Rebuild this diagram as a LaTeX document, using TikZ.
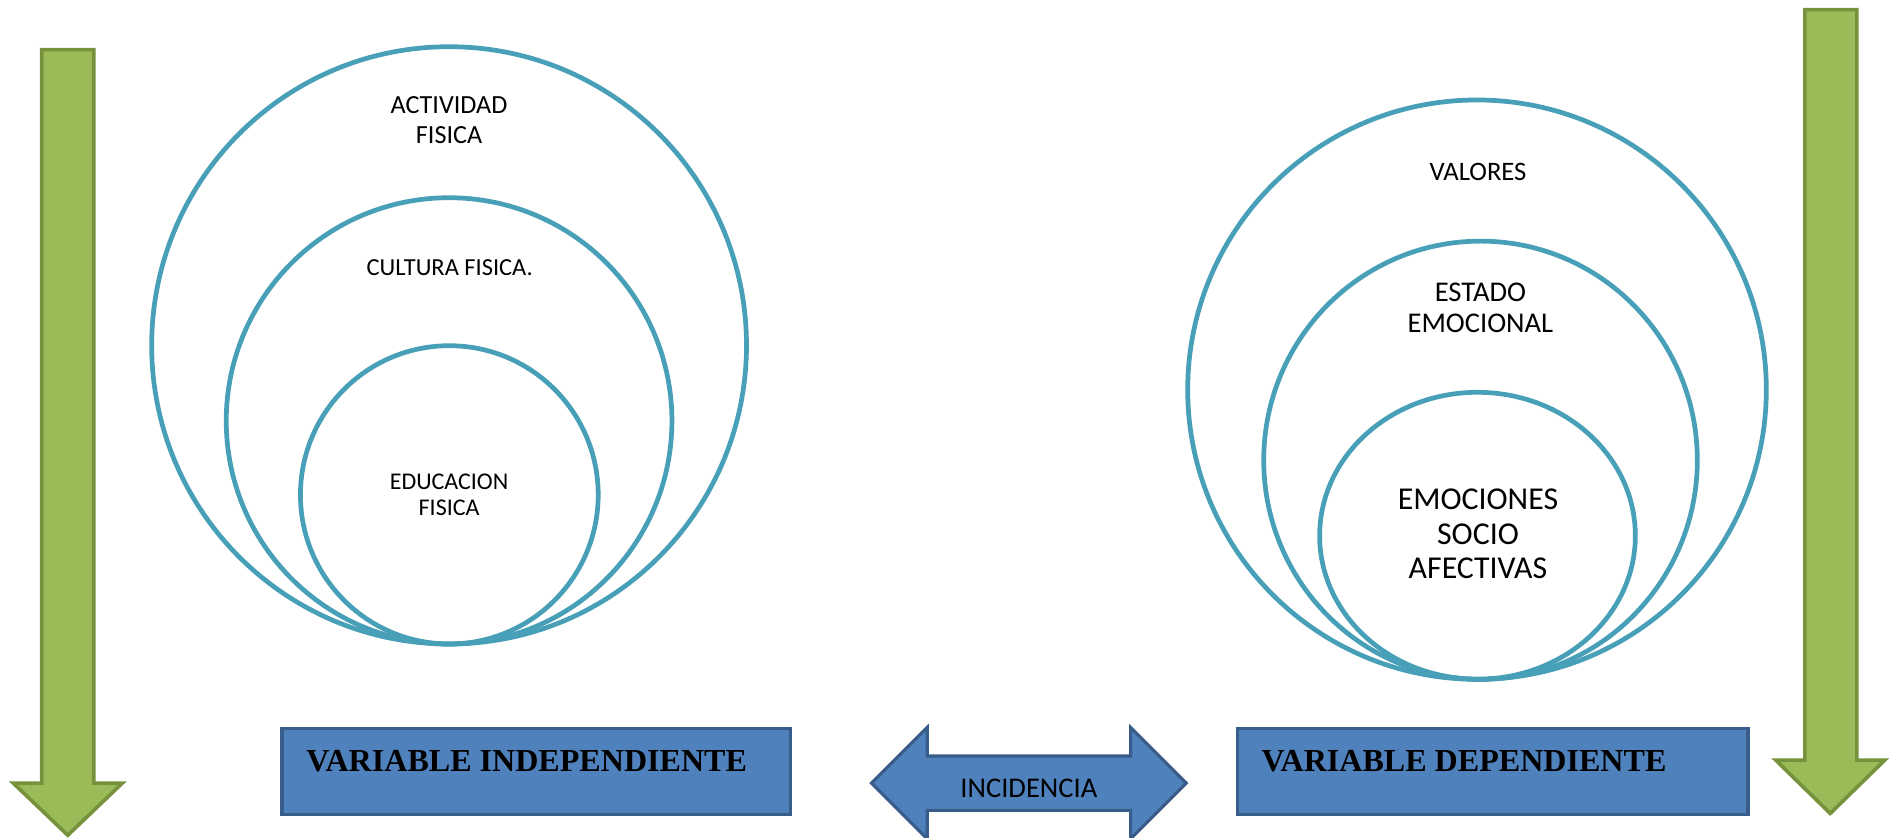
\documentclass[tikz,border=0pt]{standalone}
\usepackage{fontspec}
\usetikzlibrary{shapes.geometric}
\newfontfamily\calib{Carlito}
\newfontfamily\tnr{Liberation Serif}
\definecolor{ringblue}{HTML}{489FB8}
\definecolor{leaf}{HTML}{9BBB59}
\definecolor{leafedge}{HTML}{76923C}
\definecolor{boxfill}{HTML}{4F81BD}
\definecolor{boxedge}{HTML}{385D8A}
\tikzset{
  ring/.style={ellipse, draw=ringblue, line width=3.9pt, inner sep=0pt},
  ringtext/.style={align=center, inner sep=0pt, text=black},
  greenarrow/.style={fill=leaf, draw=leafedge, line width=3pt, line join=miter},
  varbox/.style={fill=boxfill, draw=boxedge, line width=2.6pt},
  vartext/.style={anchor=base west, inner sep=0pt, font=\tnr\bfseries\fontsize{26.5}{30}\selectfont},
}
\begin{document}
\begin{tikzpicture}[x=1pt, y=-1pt]
\useasboundingbox (0,0) rectangle (1568,692);
\fill[white] (0,0) rectangle (1568,692);

% vertical green arrows at both sides
\draw[greenarrow] (34.5,41) -- (77.5,41) -- (77.5,647) -- (101,647) -- (56,690)
  -- (11,647) -- (34.5,647) -- cycle;
\draw[greenarrow] (1491,8) -- (1534,8) -- (1534,628) -- (1557,628) -- (1512,672)
  -- (1467,628) -- (1491,628) -- cycle;

% nested rings: independent variable
\node[ring, minimum width=491.4pt, minimum height=493.4pt] (af) at (371,285.3) {};
\node[ring, minimum width=368.2pt, minimum height=368.7pt] (cf) at (371,347.7) {};
\node[ring, minimum width=246pt, minimum height=246.4pt] (ef) at (371.2,408.8) {};
\node[ringtext, font=\calib\fontsize{21.6}{25}\selectfont] (afl) at (371,99.5) {ACTIVIDAD\\FISICA};
\node[ringtext, font=\calib\fontsize{20.2}{22}\selectfont] (cfl) at (371.5,221) {CULTURA FISICA.};
\node[ringtext, font=\calib\fontsize{19.8}{21.5}\selectfont] (efl) at (371,408.6) {EDUCACION\\FISICA};

% nested rings: dependent variable
\node[ring, minimum width=478pt, minimum height=478.6pt] (va) at (1220.2,321.9) {};
\node[ring, minimum width=358.2pt, minimum height=362pt] (ee) at (1223.1,380.2) {};
\node[ring, minimum width=260.8pt, minimum height=237pt] (es) at (1220.6,442.6) {};
\node[ringtext, font=\calib\fontsize{22}{25}\selectfont] (val) at (1221,142) {VALORES};
\node[ringtext, font=\calib\fontsize{23.6}{26}\selectfont] (eel) at (1223,254.3) {ESTADO\\EMOCIONAL};
\node[ringtext, font=\calib\fontsize{26.3}{28.5}\selectfont] (esl) at (1221,441) {EMOCIONES\\SOCIO\\AFECTIVAS};

% variable boxes
\draw[varbox] (233,602) rectangle (653,673);
\node[vartext] (vi) at (253,637.5) {VARIABLE INDEPENDIENTE};
\draw[varbox] (1022,602) rectangle (1444,673);
\node[vartext] (vd) at (1042,637.5) {VARIABLE DEPENDIENTE};

% two-headed arrow between the boxes
\draw[varbox, line join=miter] (720,647) -- (766,601) -- (766,624.5) -- (934,624.5)
  -- (934,601) -- (980,647) -- (934,693) -- (934,669.5) -- (766,669.5)
  -- (766,693) -- cycle;
\node[ringtext, font=\calib\fontsize{23.6}{26}\selectfont] (inc) at (850,651) {INCIDENCIA};
\end{tikzpicture}
\end{document}
